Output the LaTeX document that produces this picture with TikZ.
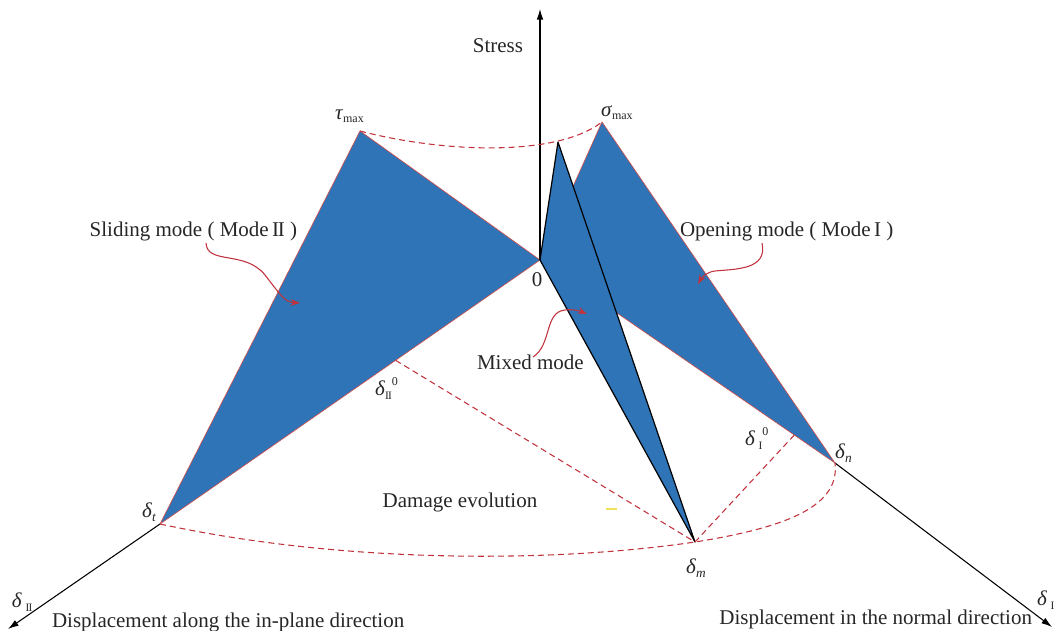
\documentclass[tikz,border=0pt]{standalone}
\usepackage{fontspec}
\setmainfont{Liberation Serif}
\usetikzlibrary{arrows.meta,calc}
\definecolor{fillblue}{RGB}{46,116,182}
\definecolor{edgered}{RGB}{205,80,80}
\definecolor{dashred}{RGB}{192,50,60}
\definecolor{yel}{RGB}{240,225,90}
\newcommand{\romtwo}{\mbox{I\kern-0.07em I}}
\newcommand{\lsub}[1]{\raisebox{-0.45ex}{\fontsize{10}{10}\selectfont #1}}
\newcommand{\msub}[1]{\raisebox{-0.3ex}{\fontsize{9}{9}\selectfont #1}}
\newcommand{\lsup}[1]{\raisebox{1.0ex}{\fontsize{9}{9}\selectfont #1}}
\newcommand{\rsub}[1]{\raisebox{-0.5ex}{\fontsize{8.5}{9}\selectfont #1}}
\begin{document}
\begin{tikzpicture}[x=0.75pt,y=-0.75pt,
  lbl/.style={inner sep=0pt,outer sep=0pt,font=\fontsize{15.75}{18}\selectfont,text=black!85},
  face/.style={fill=fillblue,draw=edgered,line width=0.5pt,line join=round},
  mixface/.style={fill=fillblue,draw=black,line width=0.9pt,line join=round},
  axis/.style={draw=black,line width=0.8pt,-{Latex[length=8pt,width=5pt]}},
  dashline/.style={draw=dashred,line width=0.8pt,dash pattern=on 4.5pt off 3pt},
  pointer/.style={draw=dashred,line width=0.8pt,-{Stealth[length=7pt,width=5pt]}}]
\useasboundingbox (0,0) rectangle (1054,631);
% key points
\coordinate (O) at (540,260);
\coordinate (tau) at (360,131);
\coordinate (sig) at (602,122);
\coordinate (pk) at (558,142);
\coordinate (dt) at (160,524);
\coordinate (dn) at (835,463);
\coordinate (dm) at (695,542);
\coordinate (top) at (540,9);
\coordinate (tipL) at (8,629);
\coordinate (tipR) at (1052,627);
\coordinate (d2) at ($(O)!0.38!(dt)$);
\coordinate (d1) at ($(O)!0.862!(dn)$);
% triangles
\path[face] (O) -- (sig) -- (dn) -- cycle;
\path[face] (O) -- (tau) -- (dt) -- cycle;
\path[mixface] (O) -- (pk) -- (dm) -- cycle;
% axes
\draw[axis] (O) -- (top);
\draw[axis] (dt) -- (tipL);
\draw[axis] (dn) -- (tipR);
% dashed curves
\draw[dashline] (tau) .. controls (440,152) and (555,158) .. (sig);
\draw[dashline] (dt) .. controls (350,565) and (560,562) .. (dm) .. controls (790,527) and (840,505) .. (dn);
\draw[dashline] (d2) -- (dm);
\draw[dashline] (d1) -- (dm);
\draw[draw=yel,line width=0.8pt] (606,509) -- (617,509);
% curly pointers
\coordinate (s1) at (206,243);
\coordinate (s2) at (300,303);
\draw[pointer] (s1) .. controls (207,265) and (245,250) .. (265,275) .. controls (282,297) and (285,302) .. (s2);
\coordinate (o1) at (762,243);
\coordinate (o2) at (698,284);
\draw[pointer] (o1) .. controls (768,270) and (735,269) .. (715,271) .. controls (707,272) and (702,277) .. (o2);
\coordinate (m1) at (533,357);
\coordinate (m2) at (587,314);
\draw[pointer] (m1) .. controls (552,345) and (544,312) .. (565,310) .. controls (573,309) and (580,311) .. (m2);
% labels
\node[lbl,anchor=base east] (stress) at (523,53) {Stress};
\node[lbl,anchor=base west] (taulbl) at (335,120) {\textit{τ}\msub{max}};
\node[lbl,anchor=base west] (siglbl) at (601,117) {\textit{σ}\msub{max}};
\node[lbl,anchor=center] (zero) at (537,280) {0};
\node[lbl,anchor=base east] (slide) at (297,237) {Sliding mode ( Mode\,\romtwo\ )};
\node[lbl,anchor=base west] (open) at (680,237) {Opening mode ( Mode\,I\ )};
\node[lbl,anchor=base west] (mixed) at (477,369) {Mixed mode};
\node[lbl,anchor=base] (damage) at (460,507) {Damage evolution};
\node[lbl,anchor=base west] (d2lbl) at (375,395) {\textit{δ}\rsub{\romtwo}\lsup{0}};
\node[lbl,anchor=base west] (d1lbl) at (745,445) {\textit{δ}\,\rsub{I}\lsup{0}};
\node[lbl,anchor=base west] (dnlbl) at (835,458) {\textit{δ}\lsub{\textit{n}}};
\node[lbl,anchor=base west] (dtlbl) at (142,517) {\textit{δ}\lsub{\textit{t}}};
\node[lbl,anchor=base west] (dmlbl) at (686,573) {\textit{δ}\lsub{\textit{m}}};
\node[lbl,anchor=base west] (dIIax) at (12,607) {\textit{δ}\,\rsub{\romtwo}};
\node[lbl,anchor=base west] (dIax) at (1037,605) {\textit{δ}\,\rsub{I}};
\node[lbl,anchor=base west] (xl) at (52,627) {Displacement along the in-plane direction};
\node[lbl,anchor=base east] (xr) at (1032,624) {Displacement in the normal direction};
\end{tikzpicture}
\end{document}
